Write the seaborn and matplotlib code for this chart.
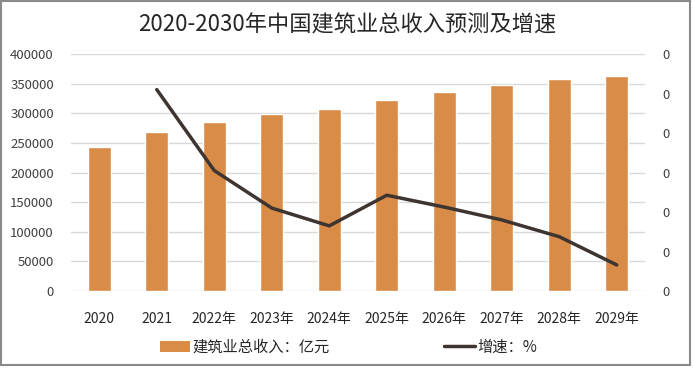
import matplotlib
matplotlib.use("Agg")
import matplotlib.pyplot as plt
import numpy as np
import pandas as pd
import seaborn as sns
from matplotlib.patches import Rectangle, Patch
from matplotlib.lines import Line2D
from matplotlib.ticker import FuncFormatter, MultipleLocator

# values
years = ['2020', '2021', '2022年', '2023年', '2024年', '2025年', '2026年', '2027年', '2028年', '2029年']
revenue = [243000, 268000, 286000, 298000, 307000, 322000, 336000, 348000, 357000, 363000]
growth = [np.nan, 0.102, 0.061, 0.042, 0.033, 0.0485, 0.0425, 0.036, 0.0275, 0.0132]

bar_color = '#D98B48'
line_color = '#3E3530'
grid_color = '#D9D9D9'
text_color = '#404040'

sns.set_style('white')
plt.rcParams['font.family'] = ['Noto Sans CJK SC', 'DejaVu Sans']

df = pd.DataFrame({'year': years, 'revenue': revenue, 'growth': growth})
df['pos'] = np.arange(len(df))

fig = plt.figure(figsize=(6.94, 3.72), dpi=100)
ax = fig.add_axes([0.1016, 0.2177, 0.8285, 0.6371])

sns.barplot(data=df, x='year', y='revenue', color=bar_color, width=0.4,
            saturation=1, ax=ax)
ax.set_ylim(0, 400000)
ax.yaxis.set_major_locator(MultipleLocator(50000))
ax.set_xlim(-0.5, len(years) - 0.5)
ax.grid(axis='y', color=grid_color, linewidth=1)
ax.set_axisbelow(True)
ax.set_xlabel('')
ax.set_ylabel('')
for s in ax.spines.values():
    s.set_visible(False)
ax.tick_params(axis='y', length=0, pad=12, labelsize=9.5, labelcolor=text_color)
ax.tick_params(axis='x', length=0, pad=15, labelsize=10, labelcolor='#262626')

ax2 = ax.twinx()
sns.lineplot(data=df.dropna(), x='pos', y='growth', color=line_color,
             linewidth=2.5, ax=ax2, legend=False)
ax2.set_ylim(0, 0.12)
ax2.yaxis.set_major_locator(MultipleLocator(0.02))
ax2.yaxis.set_major_formatter(FuncFormatter(lambda v, p: f'{v:.0f}'))
ax2.set_ylabel('')
ax2.grid(False)
for s in ax2.spines.values():
    s.set_visible(False)
ax2.tick_params(axis='y', length=0, pad=12, labelsize=9.5, labelcolor=text_color)

fig.suptitle('2020-2030年中国建筑业总收入预测及增速', y=0.965, fontsize=16, color='#262626')

handles = [Patch(facecolor=bar_color, edgecolor='none'),
           Line2D([0], [0], color=line_color, linewidth=2.5)]
fig.legend(handles, ['建筑业总收入：亿元', '增速：%'], loc='center',
           bbox_to_anchor=(0.502, 0.067), ncol=2, frameon=False, fontsize=11,
           handlelength=2.0, handletextpad=0.15, columnspacing=7.5)

fig.patches.append(Rectangle((0.002, 0.018), 0.992, 0.979, transform=fig.transFigure,
                             fill=False, edgecolor='#8A8A8A', linewidth=1.5))

fig.savefig('out.png', dpi=100)
